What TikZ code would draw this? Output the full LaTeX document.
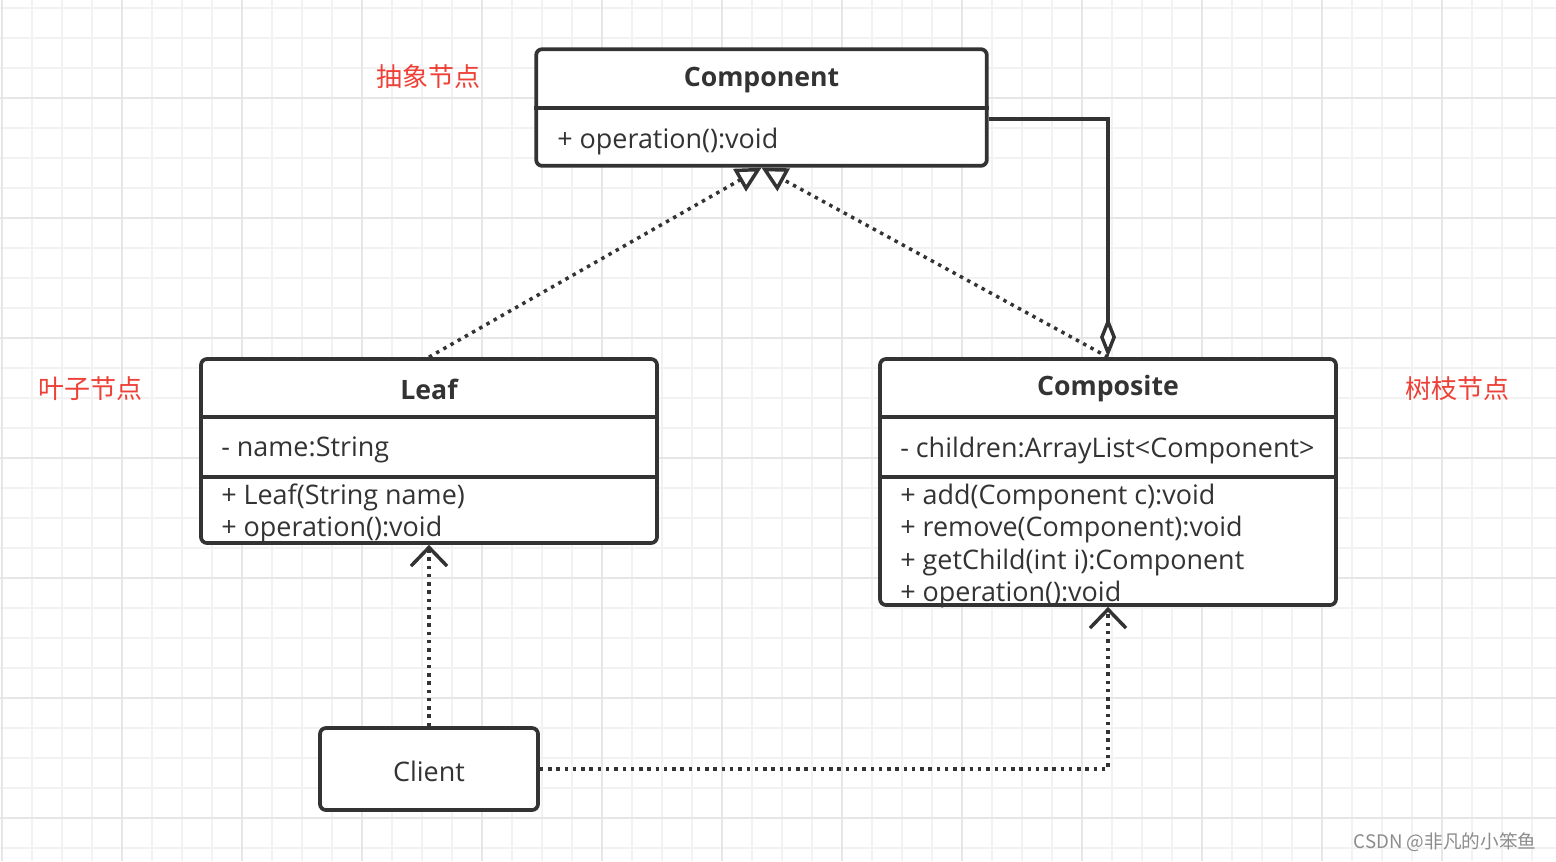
\documentclass[tikz,border=0pt]{standalone}
\usepackage{fontspec}
\setmainfont{Open Sans}
\newfontfamily\cjk{Noto Sans CJK SC}
\usetikzlibrary{arrows.meta}
\definecolor{ink}{HTML}{333333}
\definecolor{gminor}{HTML}{F2F2F2}
\definecolor{gmajor}{HTML}{E6E6E6}
\definecolor{lblred}{RGB}{238,64,54}
\definecolor{wm}{HTML}{8C8C8C}
\tikzset{
  minorline/.style={draw=gminor, line width=1.5pt},
  majorline/.style={draw=gmajor, line width=1.5pt},
  cls/.style={draw=ink, line width=2.8pt, rounded corners=4.5pt, fill=white, inner sep=0pt},
  divider/.style={draw=ink, line width=2.8pt},
  txt/.style={font=\fontsize{20.2}{24}\selectfont, text=ink, inner sep=0pt},
  title/.style={font=\fontsize{20}{24}\selectfont\bfseries, text=ink, inner sep=0pt},
  lbl/.style={font=\cjk\fontsize{19.5}{24}\selectfont, text=lblred, inner sep=0pt},
  dotline/.style={draw=ink, line width=2.6pt, dash pattern=on 2.6pt off 3.6pt},
  solidline/.style={draw=ink, line width=2.8pt},
  realize/.style={-{Triangle[open, length=19pt, width=19pt, line width=2.6pt]}},
  depend/.style={-{Straight Barb[length=14pt, width=27pt, line width=2.6pt]}},
  aggr/.style={-{Diamond[fill=white, length=30pt, width=12pt, line width=2.6pt]}}
}
\begin{document}
\begin{tikzpicture}[x=0.75pt,y=-0.75pt]
\useasboundingbox (0,0) rectangle (1556,861);
\fill[white] (0,0) rectangle (1556,861);
% grid
\foreach \x in {2,32,...,1556} \draw[minorline] (\x,0) -- (\x,861);
\foreach \y in {8,38,...,861} \draw[minorline] (0,\y) -- (1556,\y);
\foreach \x in {2,122,...,1556} \draw[majorline] (\x,0) -- (\x,861);
\foreach \y in {98,218,...,861} \draw[majorline] (0,\y) -- (1556,\y);

% class boxes
\node[cls, minimum width=338pt, minimum height=87.5pt] (comp) at (761.5,107.5) {};
\node[cls, minimum width=342pt, minimum height=138pt] (leaf) at (429,451) {};
\node[cls, minimum width=342pt, minimum height=184.5pt] (compo) at (1108,482) {};
\node[cls, minimum width=163.5pt, minimum height=61.5pt] (client) at (429,769) {};

% dividers
\draw[divider] (comp.west |- 0,108) -- (comp.east |- 0,108);
\draw[divider] (leaf.west |- 0,417) -- (leaf.east |- 0,417);
\draw[divider] (leaf.west |- 0,477) -- (leaf.east |- 0,477);
\draw[divider] (compo.west |- 0,417) -- (compo.east |- 0,417);
\draw[divider] (compo.west |- 0,477) -- (compo.east |- 0,477);

% texts
\node[title] (compT) at (761.5,80) {Component};
\node[txt, anchor=west] (compO) at (557,141) {+ operation():void};

\node[title] (leafT) at (429,389) {Leaf};
\node[txt, anchor=west] (leafA) at (221,450) {- name:String};
\node[txt, anchor=west] (leafM1) at (221,497) {+ Leaf(String name)};
\node[txt, anchor=west] (leafM2) at (221,529) {+ operation():void};

\node[title] (compoT) at (1108,389) {Composite};
\node[txt, anchor=west] (compoA) at (900,450) {- children:ArrayList<Component>};
\node[txt, anchor=west] (compoM1) at (900,497) {+ add(Component c):void};
\node[txt, anchor=west] (compoM2) at (900,529) {+ remove(Component):void};
\node[txt, anchor=west] (compoM3) at (900,562) {+ getChild(int i):Component};
\node[txt, anchor=west] (compoM4) at (900,594) {+ operation():void};

\node[txt] (clientT) at (429,771) {Client};

% labels
\node[lbl] (l1) at (428,77) {抽象节点};
\node[lbl] (l2) at (90,389) {叶子节点};
\node[lbl] (l3) at (1457,389) {树枝节点};
\node[font=\cjk\fontsize{14}{16}\selectfont, text=wm, inner sep=0pt] (wmk) at (1445,842) {CSDN @非凡的小笨鱼};

% connectors
\draw[dotline, realize] (leaf.north) -- (comp.south);
\draw[dotline, realize] (compo.north) -- (comp.south);
\draw[solidline, aggr] (comp.east |- 0,119) -| (compo.north);
\draw[dotline, depend] (client.north) -- (leaf.south);
\draw[dotline, depend] (client.east) -| (compo.south);
\end{tikzpicture}
\end{document}
